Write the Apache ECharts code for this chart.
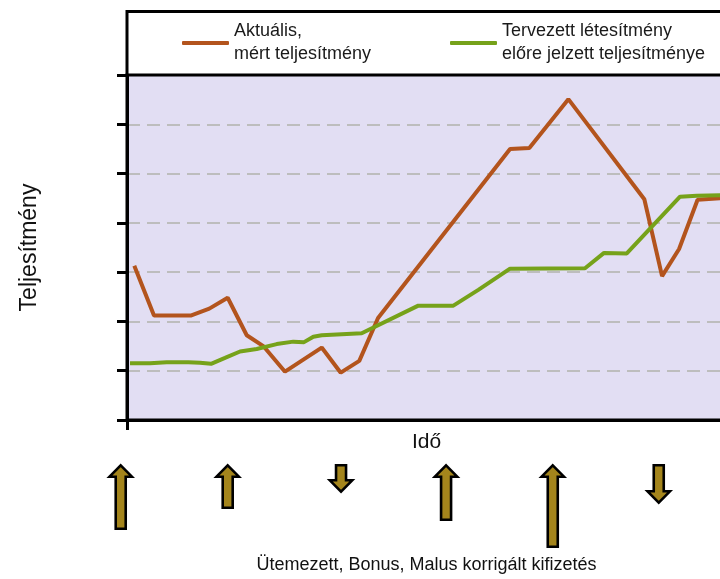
<!DOCTYPE html>
<html>
	<head>
		<meta charset="UTF-8">
		<title>Teljesítmény</title>
		<script type="text/javascript" src="https://cdn.jsdelivr.net/npm/echarts@6/dist/echarts.min.js"></script>
		<style>
			html, body { margin: 0; padding: 0; background: #fff; }
		</style>
	</head>
	<body>
		<div id="main" style="width: 720px;height:579px;"></div>
		<script type="text/javascript">
			// idő (x) és teljesítmény (y) értékek
			var aktualisX = [1.23, 4.55, 10.74, 13.88, 16.98, 20.19, 22.98, 26.64, 32.83, 36.04, 39.17, 42.33, 64.59, 67.84, 74.42, 87.23, 90.22, 93.09, 96.21, 100];
			var aktualisY = [3.13, 2.12, 2.12, 2.26, 2.48, 1.72, 1.50, 0.98, 1.47, 0.96, 1.20, 2.07, 5.50, 5.52, 6.51, 4.48, 2.92, 3.47, 4.47, 4.50];
			var tervezettX = [0.51, 3.88, 6.69, 10.34, 12.31, 14.17, 16.53, 19.06, 21.87, 25.24, 28.04, 29.85, 31.42, 32.83, 39.57, 49.12, 55.03, 59.24, 64.59, 77.23, 80.44, 84.27, 93.25, 96.07, 100];
			var tervezettY = [1.15, 1.15, 1.17, 1.17, 1.16, 1.14, 1.26, 1.39, 1.44, 1.54, 1.59, 1.58, 1.69, 1.72, 1.76, 2.32, 2.32, 2.64, 3.07, 3.08, 3.39, 3.38, 4.53, 4.55, 4.56];
			// kifizetések: időpont és összeg (+ fel, - le)
			var kifizetesX = [-1.06, 16.98, 36.09, 53.8, 71.79, 89.66];
			var kifizetesY = [66, 45, -29, 57, 84, -40];

			var nevAktualis = 'Aktuális,\nmért teljesítmény';
			var nevTervezett = 'Tervezett létesítmény\nelőre jelzett teljesítménye';
			var font = 'Liberation Sans, Arial, sans-serif';

			function pairs(xs, ys) {
				return xs.map(function (x, i) { return [x, ys[i]]; });
			}

			var myChart = echarts.init(document.getElementById('main'));

			var legendText = {
				fontSize: 18, lineHeight: 23, color: '#1a1a1a', fontFamily: font,
				padding: [12, 0, 0, 0]
			};

			myChart.setOption({
				animation: false,
				legend: [{
					data: [nevAktualis], left: 182, top: 14, padding: 0,
					icon: 'roundRect', itemWidth: 47, itemHeight: 4,
					textStyle: legendText
				}, {
					data: [nevTervezett], left: 450, top: 14, padding: 0,
					icon: 'roundRect', itemWidth: 47, itemHeight: 4,
					textStyle: legendText
				}],
				grid: [{
					left: 127, top: 75, width: 599, height: 345,
					outerBoundsMode: 'none', containLabel: false,
					show: true, backgroundColor: '#E2DEF3',
					borderColor: '#000', borderWidth: 3
				}, {
					left: 127, top: 464, width: 599, height: 90,
					outerBoundsMode: 'none', containLabel: false
				}],
				xAxis: [{
					type: 'value', min: 0, max: 101,
					name: 'Idő', nameLocation: 'middle', nameGap: 12,
					nameTextStyle: { fontSize: 21, color: '#111', fontFamily: font },
					axisLine: { lineStyle: { color: '#000', width: 3 } },
					axisTick: { show: true, customValues: [0], length: 10, lineStyle: { color: '#000', width: 3 } },
					axisLabel: { show: false },
					splitLine: { show: false }
				}, {
					type: 'value', min: 0, max: 101, gridIndex: 1,
					name: 'Ütemezett, Bonus, Malus korrigált kifizetés',
					nameLocation: 'middle', nameGap: 2,
					nameTextStyle: { fontSize: 18, color: '#111', fontFamily: font },
					axisLine: { show: false }, axisTick: { show: false },
					axisLabel: { show: false }, splitLine: { show: false }
				}],
				yAxis: [{
					type: 'value', min: 0, max: 7, interval: 1,
					name: 'Teljesítmény', nameLocation: 'middle', nameGap: 86, nameRotate: 90,
					nameTextStyle: { fontSize: 23, color: '#111', fontFamily: font },
					axisLine: { show: true, lineStyle: { color: '#000', width: 3 } },
					axisTick: { show: true, length: 10, lineStyle: { color: '#000', width: 3 } },
					axisLabel: { show: false },
					splitLine: {
						show: true, showMinLine: false, showMaxLine: false,
						lineStyle: { color: '#BDBDBD', width: 2, type: [13, 7] }
					}
				}, {
					type: 'value', min: 0, max: 90, inverse: true, gridIndex: 1,
					axisLine: { show: false }, axisTick: { show: false },
					axisLabel: { show: false }, splitLine: { show: false }
				}],
				graphic: [{
					type: 'polyline', silent: true, z: 10,
					shape: { points: [[127, 75], [127, 11.5], [722, 11.5]] },
					style: { stroke: '#000', lineWidth: 3, fill: null }
				}],
				series: [{
					name: nevAktualis, type: 'line',
					data: pairs(aktualisX, aktualisY),
					showSymbol: false, color: '#B3541D',
					lineStyle: { width: 4, color: '#B3541D' }
				}, {
					name: nevTervezett, type: 'line',
					data: pairs(tervezettX, tervezettY),
					showSymbol: false, color: '#76A21A',
					lineStyle: { width: 4, color: '#76A21A' }
				}, {
					type: 'custom', xAxisIndex: 1, yAxisIndex: 1, clip: false,
					data: pairs(kifizetesX, kifizetesY),
					renderItem: function (params, api) {
						var v = api.value(1);
						var p0 = api.coord([api.value(0), 0]);
						var p1 = api.coord([api.value(0), Math.abs(v)]);
						var lw = 2.6, cx = p0[0];
						var top = p0[1] + lw / 2, bot = p1[1] - lw / 2;
						var sw = 5, hw = 11.2, hh = 11.4;
						var pts;
						if (v > 0) {
							pts = [[cx, top], [cx + hw, top + hh], [cx + sw, top + hh], [cx + sw, bot],
								[cx - sw, bot], [cx - sw, top + hh], [cx - hw, top + hh]];
						} else {
							pts = [[cx - sw, top], [cx + sw, top], [cx + sw, bot - hh], [cx + hw, bot - hh],
								[cx, bot], [cx - hw, bot - hh], [cx - sw, bot - hh]];
						}
						return {
							type: 'polygon',
							shape: { points: pts },
							style: { fill: '#A4851C', stroke: '#000', lineWidth: lw, lineJoin: 'miter' }
						};
					}
				}]
			});
		</script>
	</body>
</html>
